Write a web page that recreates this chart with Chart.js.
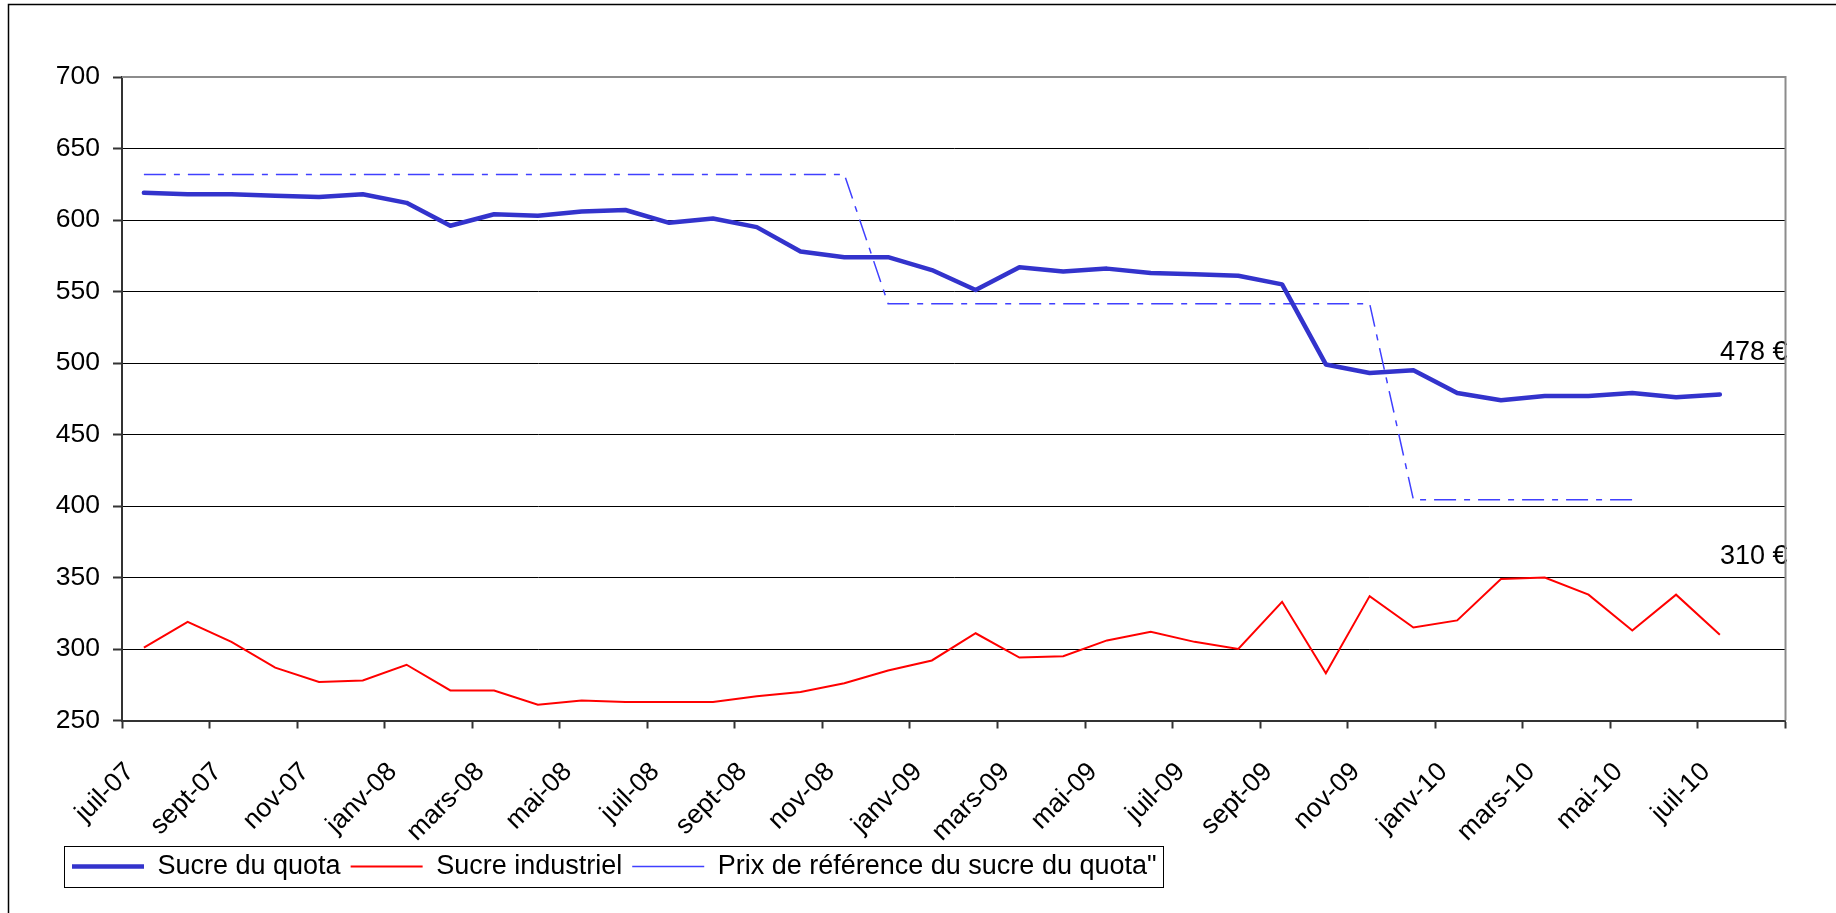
<!DOCTYPE html>
<html>
<head>
<meta charset="utf-8">
<script src="https://cdn.jsdelivr.net/npm/chart.js@4.4.1/dist/chart.umd.min.js"></script>
<style>
  html, body { margin: 0; padding: 0; background: #fff; }
  #wrap { width: 1836px; height: 913px; }
</style>
</head>
<body>
<div id="wrap"><canvas id="sugarChart"></canvas></div>
<script>
// tick labels, one every two months (juil-07 .. juil-10)
const tickLabels = ['juil-07', 'sept-07', 'nov-07', 'janv-08', 'mars-08', 'mai-08', 'juil-08', 'sept-08',
  'nov-08', 'janv-09', 'mars-09', 'mai-09', 'juil-09', 'sept-09', 'nov-09', 'janv-10', 'mars-10',
  'mai-10', 'juil-10'];

// monthly prices in EUR/t, juil-07 .. juil-10
const sucreQuota = [619, 618, 618, 617, 616, 618, 612, 596, 604, 603, 606, 607, 598, 601, 595, 578, 574,
  574, 565, 551, 567, 564, 566, 563, 562, 561, 555, 499, 493, 495, 479, 474, 477, 477, 479, 476, 478];
const sucreIndustriel = [301, 319, 305, 287, 277, 278, 289, 271, 271, 261, 264, 263, 263, 263, 267, 270,
  276, 285, 292, 311, 294, 295, 306, 312, 305, 300, 333, 283, 337, 315, 320, 349, 350, 338, 313, 338, 310];
const prixReference = [631.9, 631.9, 631.9, 631.9, 631.9, 631.9, 631.9, 631.9, 631.9, 631.9, 631.9, 631.9,
  631.9, 631.9, 631.9, 631.9, 631.9, 541.5, 541.5, 541.5, 541.5, 541.5, 541.5, 541.5, 541.5, 541.5, 541.5,
  541.5, 541.5, 404.4, 404.4, 404.4, 404.4, 404.4, 404.4];

// end-of-series value labels
const endLabels = ['478 €', '310 €'];

const FONT = 'Liberation Sans, Arial, sans-serif';

// each month sits in the middle of its slot on the month axis
function monthPoints(arr) {
  return arr.map((v, i) => ({ x: i + 0.5, y: v }));
}

const framePlugin = {
  id: 'frame',
  beforeDraw(chart) {
    const ctx = chart.ctx;
    ctx.save();
    ctx.fillStyle = '#fff';
    ctx.fillRect(0, 0, chart.width, chart.height);
    ctx.strokeStyle = '#000';
    ctx.lineWidth = 1.5;
    ctx.strokeRect(8.5, 4.5, chart.width + 20, chart.height + 20);
    ctx.restore();
  },
  afterLayout(chart) {
    // let the y tick labels spill left of the narrow axis box without being clipped
    chart.scales.y.left = 0;
  },
  afterDraw(chart) {
    const ctx = chart.ctx;
    const a = chart.chartArea;
    ctx.save();
    // plot area border, top and right
    ctx.strokeStyle = '#8c8c8c';
    ctx.lineWidth = 2;
    ctx.beginPath();
    ctx.moveTo(a.left, a.top);
    ctx.lineTo(a.right, a.top);
    ctx.lineTo(a.right, a.bottom);
    ctx.stroke();

    // box around the legend
    const hb = chart.legend.legendHitBoxes;
    if (hb && hb.length) {
      const last = hb[hb.length - 1];
      const cy = hb[0].top + hb[0].height / 2;
      const left = hb[0].left - 8;
      const right = last.left + last.width + 6;
      ctx.strokeStyle = '#000';
      ctx.lineWidth = 1;
      ctx.strokeRect(Math.round(left) + 0.5, Math.round(cy - 20.5) + 0.5, Math.round(right - left), 41);
    }
    ctx.restore();
  }
};

const endLabelPlugin = {
  id: 'endLabels',
  afterDatasetsDraw(chart, args, opts) {
    const ctx = chart.ctx;
    const y = chart.scales.y;
    ctx.save();
    ctx.fillStyle = '#000';
    ctx.font = '27px ' + FONT;
    ctx.textAlign = 'right';
    ctx.textBaseline = 'middle';
    endLabels.forEach((txt, i) => {
      ctx.fillText(txt, chart.chartArea.right + 2, y.getPixelForValue(opts.at[i]));
    });
    ctx.restore();
  }
};

const ctx = document.getElementById('sugarChart').getContext('2d');
const chart = new Chart(ctx, {
  type: 'line',
  data: {
    datasets: [
      {
        label: 'Sucre du quota',
        data: monthPoints(sucreQuota),
        borderColor: '#3333cc',
        backgroundColor: '#3333cc',
        borderWidth: 4.5,
        borderJoinStyle: 'round',
        borderCapStyle: 'round',
        pointRadius: 0,
        pointStyle: 'line',
        tension: 0
      },
      {
        label: 'Sucre industriel',
        data: monthPoints(sucreIndustriel),
        borderColor: '#ff0000',
        backgroundColor: '#ff0000',
        borderWidth: 2,
        pointRadius: 0,
        pointStyle: 'line',
        tension: 0
      },
      {
        label: 'Prix de référence du sucre du quota"',
        data: monthPoints(prixReference),
        borderColor: '#4040ff',
        backgroundColor: '#4040ff',
        borderWidth: 1.5,
        borderDash: [22, 8, 6, 8],
        pointRadius: 0,
        pointStyle: 'line',
        tension: 0
      }
    ]
  },
  options: {
    responsive: true,
    maintainAspectRatio: false,
    animation: false,
    layout: { padding: { left: 62, right: 50, top: 77, bottom: 23 } },
    scales: {
      x: {
        type: 'linear',
        min: 0,
        max: 38,
        afterFit(scale) { scale.height = 122.5; },
        grid: { drawOnChartArea: false, drawTicks: true, tickLength: 8, tickColor: '#333', tickWidth: 2 },
        border: { color: '#333', width: 2 },
        ticks: {
          stepSize: 2,
          autoSkip: false,
          minRotation: 45,
          maxRotation: 45,
          padding: 28,
          labelOffset: 8,
          color: '#000',
          font: { family: FONT, size: 26.5 },
          callback: (v) => tickLabels[v / 2] || ''
        }
      },
      y: {
        min: 250,
        max: 700,
        afterFit(scale) { scale.width = 60; },
        grid: { color: '#000', lineWidth: 1, tickLength: 9, tickColor: '#333', tickWidth: 2 },
        border: { color: '#333', width: 2 },
        ticks: {
          stepSize: 50,
          padding: 13,
          color: '#000',
          font: { family: FONT, size: 26.5 }
        }
      }
    },
    plugins: {
      legend: {
        position: 'bottom',
        align: 'start',
        labels: {
          usePointStyle: true,
          pointStyleWidth: 72,
          padding: 10,
          color: '#000',
          font: { family: FONT, size: 27 }
        }
      },
      tooltip: { enabled: false },
      endLabels: { at: [507.5, 365] }
    }
  },
  plugins: [framePlugin, endLabelPlugin]
});
</script>
</body>
</html>
